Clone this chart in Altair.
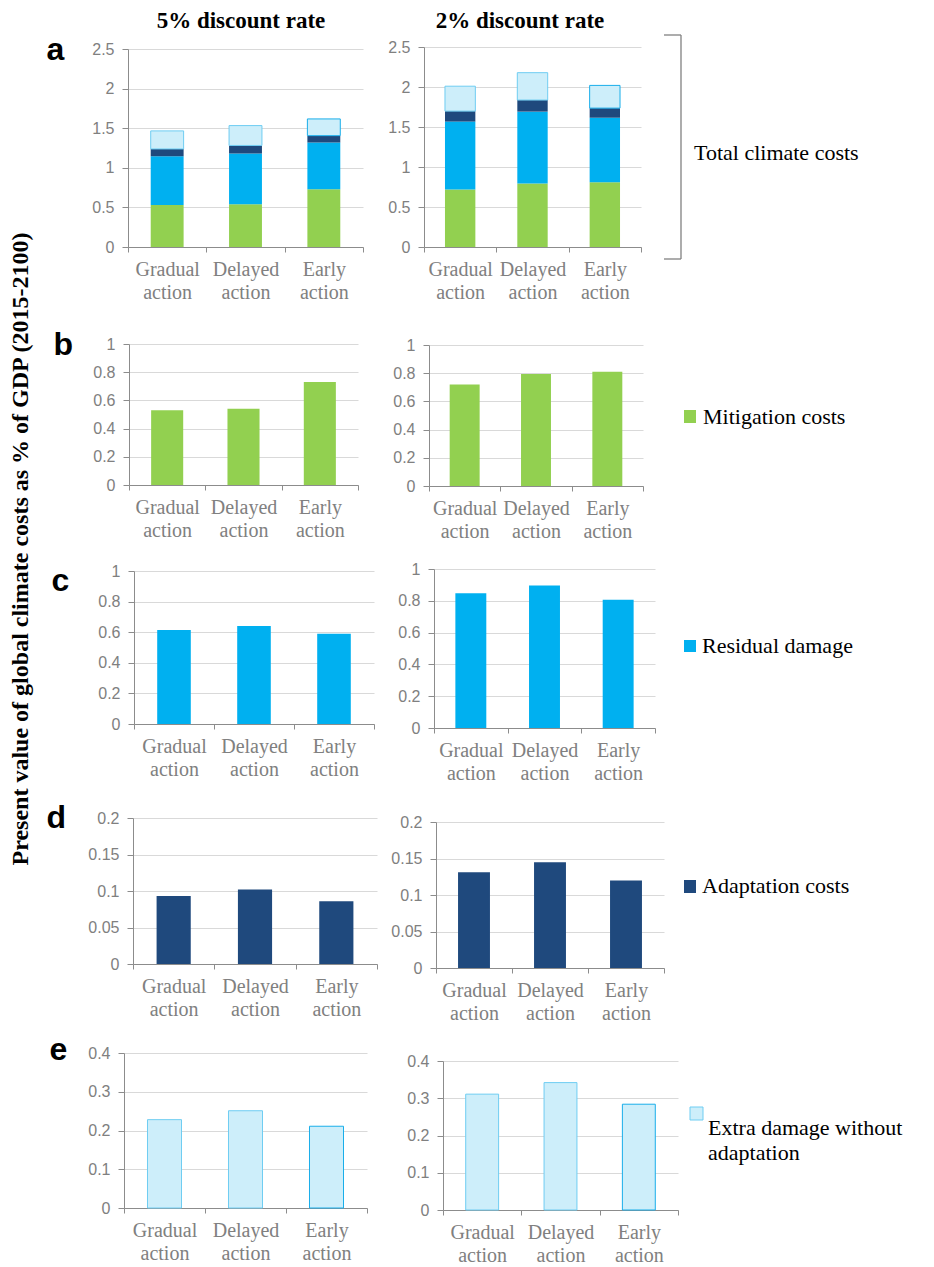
import altair as alt
import pandas as pd

# ---------------- data ----------------
scenarios = ["Gradual action", "Delayed action", "Early action"]
components = ["Mitigation costs", "Residual damage", "Adaptation costs",
              "Extra damage without adaptation"]

mitigation_5 = [0.53, 0.54, 0.73]
mitigation_2 = [0.72, 0.795, 0.81]
residual_5 = [0.615, 0.64, 0.59]
residual_2 = [0.848, 0.897, 0.806]
adaptation_5 = [0.093, 0.102, 0.086]
adaptation_2 = [0.131, 0.145, 0.120]
extra_5 = [0.228, 0.251, 0.211]
extra_2 = [0.311, 0.342, 0.284]

colors = ["#92D050", "#00B0F0", "#1F497D", "#CDEEFA"]

column_titles = ["5% discount rate", "2% discount rate"]
y_title = "Present value of global climate costs as % of GDP  (2015-2100)"
total_label = "Total climate  costs"

ticks_a = [0, 0.5, 1, 1.5, 2, 2.5]
ticks_bc = [0, 0.2, 0.4, 0.6, 0.8, 1]
ticks_d = [0, 0.05, 0.1, 0.15, 0.2]
ticks_e = [0, 0.1, 0.2, 0.3, 0.4]


def frame(arrays):
    rows = []
    for ci, (comp, arr) in enumerate(zip(components, arrays)):
        for s, v in zip(scenarios, arr):
            rows.append({"scenario": s, "component": comp, "order": ci, "value": v})
    return pd.DataFrame(rows)


df5 = frame([mitigation_5, residual_5, adaptation_5, extra_5])
df2 = frame([mitigation_2, residual_2, adaptation_2, extra_2])

GREY = "#808080"
AXIS_GREY = "#8C8C8C"
SERIF = "'Liberation Serif', 'Times New Roman', Times, 'DejaVu Serif', serif"
SANS = "'Liberation Sans', Arial, Helvetica, sans-serif"

WL = 253   # left column panel width
WR = 254   # right column panel width


def bars(data, ymax, ticks, x_end, height, top, dx, letter=None, letter_xy=(0, 0)):
    common = dict(values=ticks, format="~g", grid=True, gridColor="#D9D9D9",
                  domainColor=AXIS_GREY, tickColor=AXIS_GREY, tickSize=6,
                  labelPadding=8, labelFont=SANS, labelFontSize=16, labelColor=GREY,
                  offset=-dx)
    if letter is not None:
        yaxis = alt.Axis(title=letter, titleAngle=0, titleX=letter_xy[0],
                         titleY=letter_xy[1], titleAlign="left", titleBaseline="alphabetic",
                         titleFont=SANS, titleFontSize=32, titleFontWeight="bold",
                         titleColor="black", **common)
    else:
        yaxis = alt.Axis(title=None, **common)
    xaxis = alt.Axis(title=None, tickBand="extent", labelExpr="split(datum.label, ' ')",
                     labelFont=SERIF, labelFontSize=20, labelLineHeight=23, labelColor=GREY,
                     domainColor=AXIS_GREY, tickColor=AXIS_GREY, tickSize=5, labelPadding=7,
                     labelAngle=0, grid=False)
    return alt.Chart(data).transform_calculate(
        strokekey="datum.order == 3 ? (datum.scenario == 'Early action' ? 'early' : 'light') : 'none'"
    ).mark_bar(width={"band": 0.42}, strokeWidth=1).encode(
        x=alt.X("scenario:N", sort=scenarios,
                scale=alt.Scale(domain=scenarios, range=[dx, x_end], paddingInner=0, paddingOuter=0),
                axis=xaxis),
        y=alt.Y("value:Q", stack="zero",
                scale=alt.Scale(domain=[0, ymax], range=[height, top], nice=False, zero=True),
                axis=yaxis),
        color=alt.Color("component:N", scale=alt.Scale(domain=components, range=colors), legend=None),
        stroke=alt.Stroke("strokekey:N",
                          scale=alt.Scale(domain=["none", "light", "early"],
                                          range=["transparent", "#6FCDF2", "#19AEEA"]),
                          legend=None),
        order=alt.Order("order:Q"),
        tooltip=["scenario:N", "component:N", "value:Q"],
    )


def text_layer(text, x, y, size=22, weight="normal", align="left", baseline="middle", angle=0):
    return alt.Chart(pd.DataFrame({"t": [text]})).mark_text(
        font=SERIF, fontSize=size, fontWeight=weight, align=align, baseline=baseline,
        color="black", lineBreak="\n", lineHeight=25, angle=angle
    ).encode(x=alt.value(x), y=alt.value(y), text="t:N")


def swatch(comp, x1, x2, y1, y2, stroke=None):
    col = colors[components.index(comp)]
    kw = {"color": col}
    if stroke:
        kw["stroke"] = stroke
        kw["strokeWidth"] = 1
    return alt.Chart(pd.DataFrame({"c": [comp]})).mark_rect(**kw).encode(
        x=alt.value(x1), x2=alt.value(x2), y=alt.value(y1), y2=alt.value(y2))


def rule(x1, x2, y1, y2):
    return alt.Chart(pd.DataFrame({"k": [0]})).mark_rule(color=GREY, strokeWidth=1.3).encode(
        x=alt.value(x1), x2=alt.value(x2), y=alt.value(y1), y2=alt.value(y2))


def only(df, comp):
    return df[df["component"] == comp]


# ---------------- panels ----------------
# row a
aL = alt.layer(
    bars(df5, 2.5, ticks_a, 239, 200, 2, 4, "a", (-82, 12)),
    text_layer(column_titles[0], 117, 26 - 45, size=23, weight="bold", align="center",
               baseline="alphabetic"),
    text_layer(y_title, -96, 502, size=24, weight="bold", align="center",
               baseline="alphabetic", angle=270),
).properties(width=WL, height=200)

aR = alt.layer(
    bars(df2, 2.5, ticks_a, 217, 200, 0, 0),
    text_layer(column_titles[1], 96, 26 - 45, size=23, weight="bold", align="center",
               baseline="alphabetic"),
    rule(257, 257, -12, 212),
    rule(240, 257, -12, -12),
    rule(240, 257, 212, 212),
    text_layer(total_label, 270, 113, baseline="alphabetic"),
).properties(width=WR, height=200)

# row b
bL = bars(only(df5, components[0]), 1, ticks_bc, 234, 155, 14, 5, "b", (-76, 24)).properties(
    width=WL, height=155)
bR = alt.layer(
    bars(only(df2, components[0]), 1, ticks_bc, 219, 156, 15, 5),
    swatch(components[0], 260, 272, 80, 93),
    text_layer(components[0], 279, 86.5),
).properties(width=WR, height=156)

# row c
cL = bars(only(df5, components[1]), 1, ticks_bc, 250, 155, 2, 10, "c", (-83, 21)).properties(
    width=WL, height=155)
cR = alt.layer(
    bars(only(df2, components[1]), 1, ticks_bc, 231, 159, 0, 10),
    swatch(components[1], 260, 272, 71, 83),
    text_layer(components[1], 278, 77),
).properties(width=WR, height=159)

# row d
dL = bars(only(df5, components[2]), 0.2, ticks_d, 253, 153, 7, 9, "d", (-87, 16)).properties(
    width=WL, height=153)
dR = alt.layer(
    bars(only(df2, components[2]), 0.2, ticks_d, 240, 157, 11, 12),
    swatch(components[2], 260, 272, 69, 82),
    text_layer(components[2], 278, 75),
).properties(width=WR, height=157)

# row e
eL = bars(only(df5, components[3]), 0.4, ticks_e, 243, 157, 2, 0, "e", (-75, 8)).properties(
    width=WL, height=157)
eR = alt.layer(
    bars(only(df2, components[3]), 0.4, ticks_e, 254, 159, 10, 19),
    swatch(components[3], 266, 279, 56, 69, stroke="#6FCDF2"),
    text_layer("Extra damage without\nadaptation", 284, 76.5),
).properties(width=WR, height=159)

chart = alt.concat(
    aL, aR, bL, bR, cL, cR, dL, dR, eL, eR,
    columns=2, spacing={"row": 83, "column": 47}, bounds="flush", align="each",
).resolve_scale(
    x="independent", y="independent", color="independent", stroke="independent"
).properties(padding={"top": 2, "left": 0, "right": 5, "bottom": 5}).configure_view(stroke=None)

chart.save("out.html", embed_options={"renderer": "svg", "actions": False})
